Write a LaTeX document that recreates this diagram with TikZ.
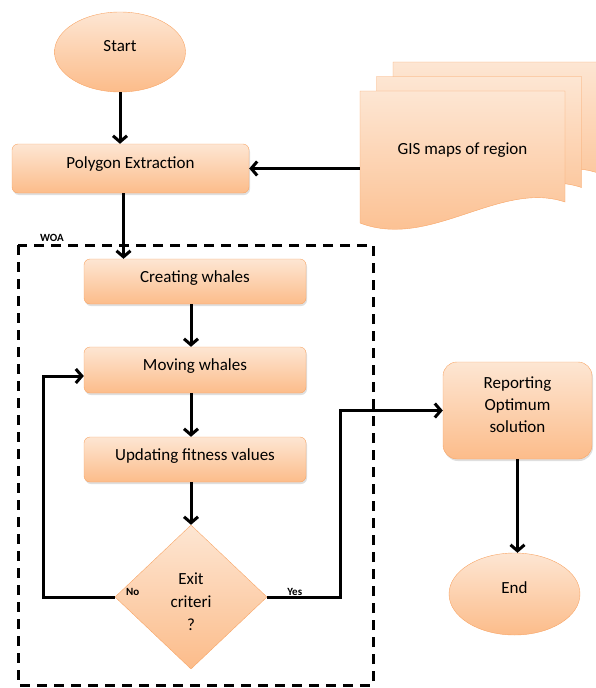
\documentclass[tikz,border=0pt]{standalone}
\usepackage{fontspec}
\setmainfont{Carlito}
\usetikzlibrary{arrows.meta,shapes.geometric,positioning,shadows}

\definecolor{peachtop}{HTML}{FDE6D3}
\definecolor{peachbot}{HTML}{FCBC8A}
\definecolor{peachline}{HTML}{F8A566}

\tikzset{
        proc/.style = {rectangle, rounded corners=6pt, draw=peachline, top color=peachtop, bottom color=peachbot, inner sep=0pt, align=center, text height=5pt, text depth=4pt, drop shadow={shadow xshift=1pt, shadow yshift=-2pt, opacity=.25}},
        term/.style = {ellipse, draw=peachline, top color=peachtop, bottom color=peachbot, inner sep=0pt, minimum width=131pt, text height=5pt, text depth=7pt},
        cond/.style = {diamond, aspect=1, draw=peachline, top color=peachtop, bottom color=peachbot, inner sep=0pt, align=center, minimum width=152pt, minimum height=144pt},
        docpage/.style = {draw=peachline, top color=peachtop, bottom color=peachbot},
        arr/.style = {line width=3pt, -{Straight Barb[length=6pt,width=14pt]}},
        woabox/.style = {line width=3pt, dash pattern=on 10pt off 7pt},
        lbl/.style = {font=\fontsize{11}{13}\selectfont\bfseries, inner sep=0pt}
    }

\begin{document}
\begin{tikzpicture}[x=1pt,y=-1pt,every node/.style={font=\fontsize{17}{22}\selectfont}]
            \useasboundingbox (0,0) rectangle (595,688);

            \node[term,minimum height=80pt] (start) at (120,52) {Start};
            \node[proc,text depth=5pt,minimum width=237pt,minimum height=49pt] (poly) at (130.5,168.5) {Polygon\ Extraction};

            \foreach \dx/\dy in {33/-29,16.5/-14.5,0/0}
                \path[docpage] (360+\dx,91+\dy) -- (565+\dx,91+\dy) -- (565+\dx,202+\dy)
                    .. controls (500+\dx,180+\dy) and (430+\dx,250+\dy) .. (360+\dx,223+\dy) -- cycle;
            \node[minimum width=205pt,minimum height=132pt,inner sep=0pt] (gis) at (462.5,150) {GIS maps of region};

            \node[lbl] (woa) at (52,238) {WOA};
            \draw[woabox] (18,245) rectangle (373,685);

            \node[proc,minimum width=222pt,minimum height=45pt] (create) at (195,281.5) {Creating whales};
            \node[proc,minimum width=222pt,minimum height=46pt] (move) at (195,370) {Moving whales};
            \node[proc,minimum width=222pt,minimum height=45pt] (update) at (195,459.5) {Updating fitness values};
            \node[cond,font=\fontsize{17}{23}\selectfont,text height=67pt,text depth=0pt] (exit) at (191,597) {Exit\\criteri\\?};

            \node[proc,rounded corners=14pt,text height=44pt,text depth=0pt,minimum width=149pt,minimum height=97pt] (report) at (517.5,410.5) {Reporting\\Optimum\\solution};
            \node[term,text depth=6pt,minimum height=82pt] (end) at (514.5,594) {End};

            \node[lbl,above right=1pt and 11pt of exit.west] (no) {No};
            \node[lbl,above right=1pt and 20pt of exit.east] (yes) {Yes};

            \draw[arr] (start) -- (start |- poly.north);
            \draw[arr] (gis.west |- poly.east) -- (poly.east);
            \draw[arr] ([xshift=-7pt]poly.south) -- ([xshift=-7pt]poly.south |- create.north);
            \draw[arr] (create.south -| exit.north) -- (move.north -| exit.north);
            \draw[arr] (move.south -| exit.north) -- (update.north -| exit.north);
            \draw[arr] (update.south -| exit.north) -- (exit.north);
            \draw[arr] (exit.west) -- ++(-71,0) |- ([yshift=-6pt]move.west);
            \draw[arr] (exit.east) -- ++(73,0) |- (report.west);
            \draw[arr] (report.south) -- (report.south |- end.north);
        \end{tikzpicture}
\end{document}
